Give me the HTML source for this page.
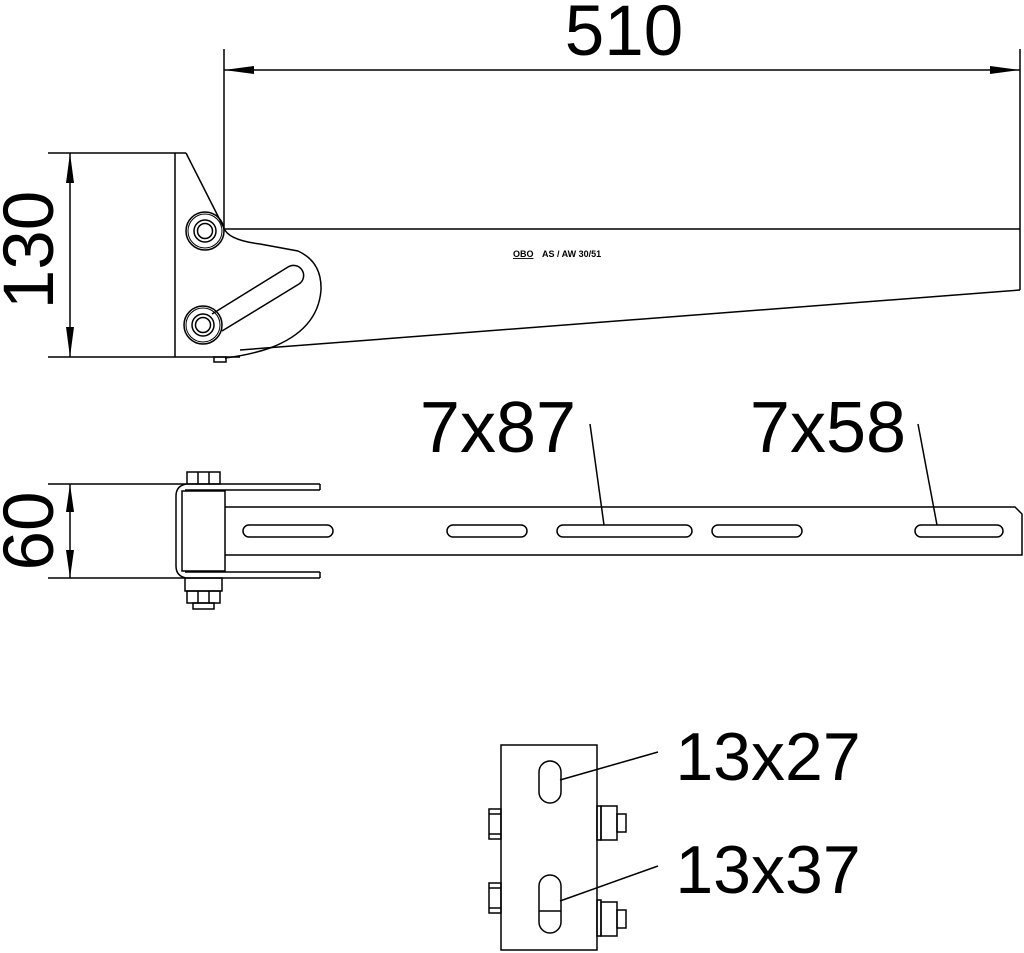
<!DOCTYPE html>
<html><head><meta charset="utf-8"><style>
html,body{margin:0;padding:0;background:#fff;}
svg{display:block;}
text{font-family:"Liberation Sans",Arial,sans-serif;fill:#000;}
</style></head><body>
<svg width="1024" height="953" viewBox="0 0 1024 953" xmlns="http://www.w3.org/2000/svg">
<g stroke="#000" stroke-width="1.5" fill="none">
<!-- 510 dim -->
<line x1="224" y1="49" x2="224" y2="228"/>
<line x1="1020" y1="49" x2="1020" y2="229"/>
<line x1="224" y1="70" x2="1020" y2="70"/>
<!-- 130 dim -->
<line x1="48" y1="153" x2="186" y2="153"/>
<line x1="48" y1="357" x2="240" y2="357"/>
<line x1="70" y1="153" x2="70" y2="357"/>
<!-- side view -->
<line x1="175" y1="153" x2="175" y2="357"/>
<line x1="186" y1="153" x2="224" y2="228"/>
<line x1="224" y1="229" x2="1020" y2="229"/>
<line x1="1020" y1="229" x2="1020" y2="290"/>
<line x1="1020" y1="290" x2="240" y2="350"/>
<path d="M224,228 Q228,240 260,244 L298,251 Q322,262 321,290 Q318,330 270,348 Q250,355 225,358"/>
<path d="M212,314 L288,267 A10,10 0 0 1 299,284 L222,331"/>
<rect x="214" y="357" width="12" height="5"/>
<circle cx="205" cy="231" r="19"/><circle cx="205" cy="231" r="17" stroke-width="1"/><circle cx="205" cy="231" r="11"/><circle cx="205" cy="231" r="7.5"/>
<circle cx="203" cy="325" r="19"/><circle cx="203" cy="325" r="17" stroke-width="1"/><circle cx="203" cy="325" r="11"/><circle cx="203" cy="325" r="7.5"/>
<!-- top view -->
<line x1="48" y1="484" x2="320" y2="484"/>
<line x1="48" y1="578" x2="320" y2="578"/>
<line x1="70" y1="484" x2="70" y2="578"/>
<line x1="185" y1="490" x2="320" y2="490"/>
<line x1="320" y1="484" x2="320" y2="490"/>
<line x1="185" y1="572" x2="320" y2="572"/>
<line x1="320" y1="572" x2="320" y2="578"/>
<path d="M186,484 Q176,486 176,496 L176,566 Q176,576 186,578"/>
<rect x="182" y="491" width="43" height="80"/>
<rect x="187" y="472" width="33" height="12"/>
<line x1="198" y1="472" x2="198" y2="484"/><line x1="209" y1="472" x2="209" y2="484"/>
<rect x="185" y="578" width="37" height="13"/>
<rect x="187" y="591" width="33" height="12"/>
<rect x="193" y="603" width="21" height="6"/>
<line x1="198" y1="591" x2="198" y2="603"/><line x1="209" y1="591" x2="209" y2="603"/>
<path d="M225,507 L1015,507 L1022,514 L1022,555 L225,555"/>
<rect x="243" y="525" width="90" height="12" rx="6"/>
<rect x="447" y="525" width="80" height="12" rx="6"/>
<rect x="557" y="525" width="135" height="12" rx="6"/>
<rect x="712" y="525" width="90" height="12" rx="6"/>
<rect x="915" y="525" width="88" height="12" rx="6"/>
<line x1="590" y1="424" x2="604" y2="525"/>
<line x1="918" y1="424" x2="937" y2="525"/>
<!-- bottom view -->
<rect x="501" y="745" width="96" height="205"/>
<rect x="539" y="761" width="22" height="42" rx="11"/>
<rect x="539" y="875" width="22" height="58" rx="11"/>
<line x1="539" y1="911" x2="561" y2="911"/>
<rect x="489" y="809" width="12" height="30"/><line x1="489" y1="814" x2="501" y2="814"/><line x1="489" y1="834" x2="501" y2="834"/>
<rect x="489" y="883" width="12" height="30"/><line x1="489" y1="888" x2="501" y2="888"/><line x1="489" y1="908" x2="501" y2="908"/>
<rect x="597" y="806" width="4" height="34"/><rect x="601" y="806" width="16" height="34"/><rect x="617" y="814" width="9" height="18"/>
<rect x="597" y="900" width="4" height="36"/><rect x="601" y="902" width="16" height="34"/><rect x="617" y="910" width="9" height="18"/>
<line x1="560" y1="780" x2="658" y2="752"/>
<line x1="560" y1="901" x2="658" y2="866"/>
</g>
<g fill="#000">
<polygon points="224,70 254,66 254,74"/>
<polygon points="1020,70 990,66 990,74"/>
<polygon points="70,153 66,183 74,183"/>
<polygon points="70,357 66,327 74,327"/>
<polygon points="70,484 66,512 74,512"/>
<polygon points="70,578 66,550 74,550"/>
</g>
<text x="624" y="55" font-size="71" text-anchor="middle">510</text>
<text transform="translate(53,250) rotate(-90)" font-size="71" text-anchor="middle">130</text>
<text transform="translate(53,531) rotate(-90)" font-size="71" text-anchor="middle">60</text>
<text x="498" y="452" font-size="72" text-anchor="middle">7x87</text>
<text x="828" y="452" font-size="72" text-anchor="middle">7x58</text>
<text x="768" y="780" font-size="68" text-anchor="middle">13x27</text>
<text x="768" y="893" font-size="68" text-anchor="middle">13x37</text>
<text x="513" y="257" font-size="9" font-weight="bold" text-decoration="underline">OBO</text>
<text x="542" y="257" font-size="9" font-weight="bold">AS / AW 30/51</text>
</svg>
</body></html>
